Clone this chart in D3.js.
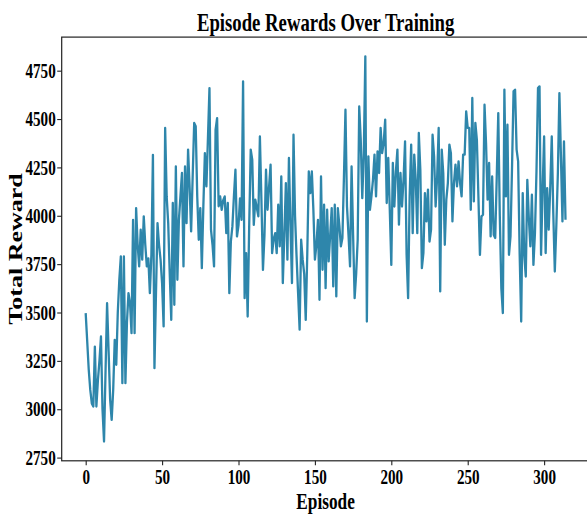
<!DOCTYPE html>
<html>
<head>
<meta charset="utf-8">
<script src="https://cdn.jsdelivr.net/npm/d3@7"></script>
<style>
  html, body { margin: 0; padding: 0; background: #fff; }
  svg { display: block; }
  text { font-family: "Liberation Serif", "Times New Roman", serif; font-weight: bold; fill: #000; }
</style>
</head>
<body>
<svg id="chart" width="587" height="517"></svg>
<script>
// ---- data ----
const rewards = [
  3497,3350,3204,3100,3030,3014,3324,3014,3150,3250,
  3376,3000,2833,3200,3548,3300,3050,2945,3100,3359,
  3230,3500,3669,3790,3135,3790,3135,3450,3600,3550,
  3393,3979,3393,4040,3850,3738,3928,3773,3997,3850,
  3738,3780,3600,3800,4315,3212,3600,3962,3850,3773,
  3650,3428,4454,4100,3962,3700,3462,4066,3540,4255,
  3669,3979,4100,4221,3738,4255,3962,4342,4150,3919,
  4200,4480,4463,4100,3876,4040,3729,4050,4324,4152,
  4400,4660,3928,3850,3738,4445,4505,4049,4100,4031,
  4080,4100,3910,4066,3600,3867,3945,4100,4238,3893,
  3950,4090,3979,4695,3574,3807,3479,3950,4342,4290,
  3953,4083,4040,3997,4410,4083,3720,3900,4238,4031,
  4150,4264,3807,3880,3910,3807,4057,3842,4203,3652,
  3900,4169,3773,4299,3950,3652,4419,4000,3790,3600,
  3411,3876,3773,3700,3462,3800,4229,4117,4229,4031,
  3773,3850,3979,3566,4203,3721,4057,3626,4031,3764,
  3900,4040,3635,4057,3583,4040,3950,3842,3885,4200,
  4548,4048,3900,3738,4255,3900,3574,3700,3876,4565,
  4393,4091,4324,4824,3453,4307,4031,4100,4186,4316,
  4100,4333,4221,4454,4324,4376,4497,4066,4299,4031,
  3746,4273,4048,4229,4342,3954,4221,4048,4186,4385,
  3800,3574,4100,4368,3910,4316,4186,3910,4428,4238,
  3729,3807,4117,3971,4135,3867,3928,4419,4307,4048,
  4200,4454,3609,4342,4221,3850,4083,4169,4368,4324,
  3971,4169,4264,4152,4281,4169,4100,4316,4316,4540,
  4454,4454,4031,4609,4074,4480,4393,4100,3798,3997,
  4005,4574,4376,4083,4273,3893,4203,3902,3885,4200,
  4531,4000,3626,3497,4652,4100,4471,3798,3893,4250,
  4643,4652,4342,4281,3800,3453,4117,3798,3686,4186,
  3988,3842,4109,3746,3910,4229,4660,4669,3798,4134,
  4410,3807,4143,3928,4143,4410,4014,3712,3950,4221,
  4634,4307,3971,4384,3979
];
const episodes = rewards.map((_, i) => i);
const xTicks = [0, 50, 100, 150, 200, 250, 300];
const yTicks = [2750, 3000, 3250, 3500, 3750, 4000, 4250, 4500, 4750];
const titleText = "Episode Rewards Over Training";
const xLabel = "Episode";
const yLabel = "Total Reward";

(function draw() {
  const svg = d3.select("#chart");
  const pL = 61.7, pR = 589.5, pT = 37.1, pB = 460.8;
  const sx = 0.72; // horizontal glyph compression seen in the reference

  const xMin = d3.min(episodes), xMax = d3.max(episodes);
  const xPad = (xMax - xMin) * 0.05;
  const yMin = d3.min(rewards), yMax = d3.max(rewards);
  const yPad = (yMax - yMin) * 0.05;

  const x = d3.scaleLinear().domain([xMin - xPad, xMax + xPad]).range([pL, pR]);
  const y = d3.scaleLinear().domain([yMin - yPad, yMax + yPad]).range([pB, pT]);

  const line = d3.line().x((d, i) => x(episodes[i])).y(d => y(d));
  svg.append("path")
    .datum(rewards)
    .attr("d", line)
    .attr("fill", "none")
    .attr("stroke", "#2E86AB")
    .attr("stroke-width", 2.3)
    .attr("stroke-linejoin", "round");

  svg.append("rect")
    .attr("x", pL).attr("y", pT)
    .attr("width", pR - pL).attr("height", pB - pT)
    .attr("fill", "none").attr("stroke", "#222").attr("stroke-width", 1.2);

  const xAxis = svg.append("g")
    .attr("transform", `translate(0,${pB})`)
    .call(d3.axisBottom(x).tickValues(xTicks).tickSize(4.5).tickPadding(4).tickFormat(d3.format("d")));
  const yAxis = svg.append("g")
    .attr("transform", `translate(${pL},0)`)
    .call(d3.axisLeft(y).tickValues(yTicks).tickSize(4.5).tickPadding(1.5).tickFormat(d3.format("d")));

  [xAxis, yAxis].forEach(g => {
    g.select(".domain").remove();
    g.selectAll(".tick line").attr("stroke", "#222").attr("stroke-width", 1.1);
    g.selectAll(".tick text").each(function() {
      const t = d3.select(this);
      const tx = +t.attr("x") || 0;
      const ty = +t.attr("y") || 0;
      t.attr("x", 0).attr("y", 0)
        .attr("transform", `translate(${tx},${ty}) scale(${sx},1)`)
        .style("font-family", '"Liberation Serif", "Times New Roman", serif')
        .style("font-weight", "bold")
        .style("font-size", "21px")
        .attr("fill", "#000");
    });
  });

  svg.append("text")
    .attr("transform", `translate(${(pL + pR) / 2},31) scale(${sx},1)`)
    .attr("text-anchor", "middle")
    .style("font-size", "26px")
    .text(titleText);

  svg.append("text")
    .attr("transform", `translate(${(pL + pR) / 2},509) scale(${sx},1)`)
    .attr("text-anchor", "middle")
    .style("font-size", "24px")
    .text(xLabel);

  svg.append("text")
    .attr("transform", `translate(22,${(pT + pB) / 2}) rotate(-90) scale(1,${sx})`)
    .attr("text-anchor", "middle")
    .style("font-size", "26px")
    .text(yLabel);
})();
</script>
</body>
</html>
